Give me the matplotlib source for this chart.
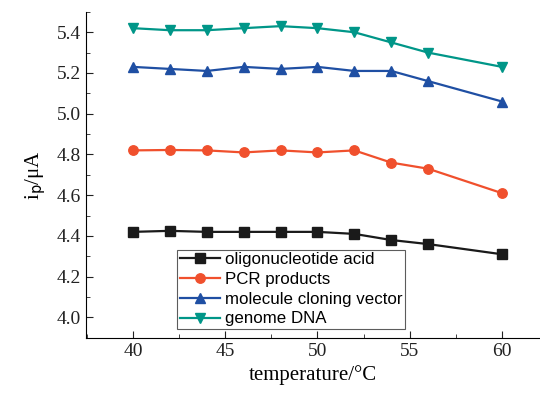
import matplotlib
matplotlib.use("Agg")
import matplotlib.pyplot as plt
from matplotlib.ticker import MultipleLocator

temperature = [40, 42, 44, 46, 48, 50, 52, 54, 56, 60]
oligo = [4.42, 4.425, 4.42, 4.42, 4.42, 4.42, 4.41, 4.38, 4.36, 4.31]
pcr = [4.82, 4.822, 4.82, 4.81, 4.82, 4.81, 4.82, 4.76, 4.73, 4.61]
cloning = [5.23, 5.22, 5.21, 5.23, 5.22, 5.23, 5.21, 5.21, 5.16, 5.06]
genome = [5.42, 5.41, 5.41, 5.42, 5.43, 5.42, 5.40, 5.35, 5.30, 5.23]

series = [
    ("oligonucleotide acid", oligo, "#1a1a1a", "s"),
    ("PCR products", pcr, "#f0502d", "o"),
    ("molecule cloning vector", cloning, "#1f4fa3", "^"),
    ("genome DNA", genome, "#009688", "v"),
]

plt.rcParams["font.family"] = ["Liberation Serif", "DejaVu Serif"]
fig = plt.figure(figsize=(5.4, 3.96), dpi=100)
ax = fig.add_axes([0.159, 0.147, 0.841, 0.823])

for name, vals, col, mk in series:
    ax.plot(temperature, vals, color=col, marker=mk, markersize=6.8, linewidth=1.6, label=name)

ax.set_xlim(37.45, 62.06)
ax.set_ylim(3.9, 5.5)
ax.xaxis.set_major_locator(MultipleLocator(5))
ax.xaxis.set_minor_locator(MultipleLocator(2.5))
ax.yaxis.set_major_locator(MultipleLocator(0.2))
ax.yaxis.set_minor_locator(MultipleLocator(0.1))
ax.tick_params(which="both", direction="in", labelsize=14, colors="#222222")
ax.tick_params(which="major", length=5)
ax.tick_params(which="minor", length=3)
ax.spines["top"].set_visible(False)
ax.spines["right"].set_visible(False)
ax.set_xlabel("temperature/°C", fontsize=15, labelpad=4)
ax.set_ylabel(r"i$_\mathrm{p}$/μA", fontsize=15, labelpad=6)

leg = ax.legend(loc="lower left", bbox_to_anchor=(0.201, 0.027), frameon=True, fancybox=False,
                edgecolor="#333333", prop={"family": "Liberation Sans", "size": 12.2},
                handlelength=2.4, borderpad=0.15, labelspacing=0.28, handletextpad=0.3,
                borderaxespad=0)
leg.get_frame().set_linewidth(0.8)

fig.savefig("out.png", dpi=100)
